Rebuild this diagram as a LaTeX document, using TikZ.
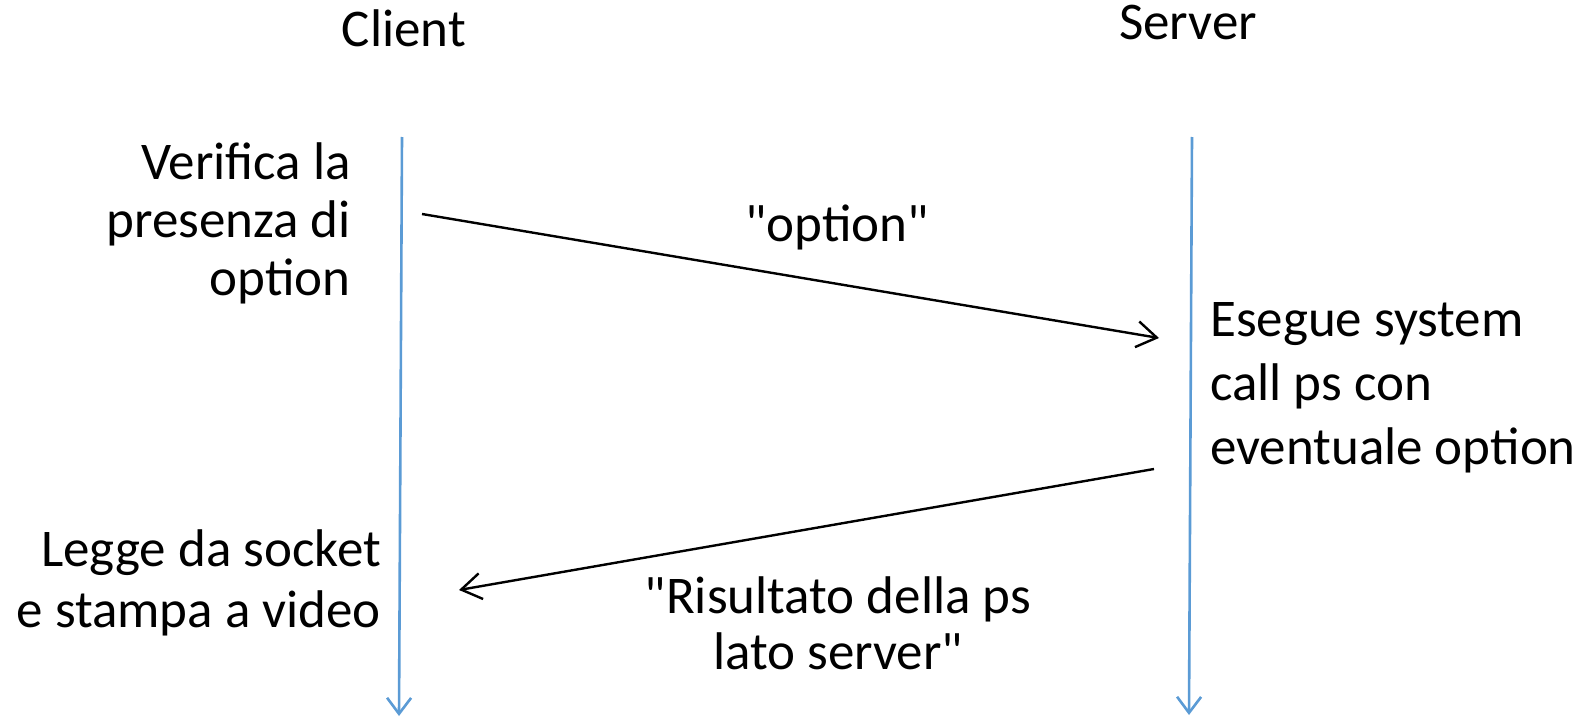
\documentclass[tikz,border=0pt]{standalone}
\usepackage{fontspec}
\setmainfont{Carlito}[Ligatures=TeXOff]
\usetikzlibrary{arrows.meta}
\definecolor{lifeblue}{RGB}{91,155,213}
\tikzset{
  lifeline/.style={draw=lifeblue, line width=2.6pt, -{Straight Barb[length=16pt,width=24pt,line width=2.6pt]}},
  msg/.style={draw=black, line width=2.4pt, -{Straight Barb[length=20pt,width=26pt,line width=2.4pt]}},
  lbl/.style={inner sep=0pt, font=\fontsize{53}{57}\selectfont},
}
\begin{document}
\begin{tikzpicture}[x=1pt, y=-1pt]
  \useasboundingbox (0,0) rectangle (1591,717);

  % participants
  \node[lbl, anchor=base] (client) at (404,47) {Client};
  \node[lbl, anchor=base] (server) at (1188,40) {Server};

  % lifelines
  \coordinate (ctop) at (402,137);
  \coordinate (cbot) at (399,716);
  \coordinate (stop) at (1192,137);
  \coordinate (sbot) at (1189,715);
  \draw[lifeline] (ctop) -- (cbot);
  \draw[lifeline] (stop) -- (sbot);

  % client: check for option
  \node[lbl, anchor=base east] (v1) at (351,179) {Verifica la};
  \node[lbl, anchor=base east] (v2) at (351,237) {presenza di};
  \node[lbl, anchor=base east] (v3) at (351,295) {option};

  % request message
  \coordinate (reqa) at (422,214);
  \coordinate (reqb) at (1159,338);
  \draw[msg] (reqa) -- (reqb);
  \node[lbl, anchor=base] (req) at (837,241) {"option"};

  % server: run ps
  \node[lbl, anchor=base west] (e1) at (1210,336) {Esegue system};
  \node[lbl, anchor=base west] (e2) at (1210,400) {call ps con};
  \node[lbl, anchor=base west] (e3) at (1210,464) {eventuale option};

  % reply message
  \coordinate (repa) at (1154,469);
  \coordinate (repb) at (459,590);
  \draw[msg] (repa) -- (repb);
  \node[lbl, anchor=base] (rep1) at (838,613) {"Risultato della ps};
  \node[lbl, anchor=base] (rep2) at (838,669) {lato server"};

  % client: print result
  \node[lbl, anchor=base east] (l1) at (381,566) {Legge da socket};
  \node[lbl, anchor=base east] (l2) at (381,627) {e stampa a video};
\end{tikzpicture}
\end{document}
